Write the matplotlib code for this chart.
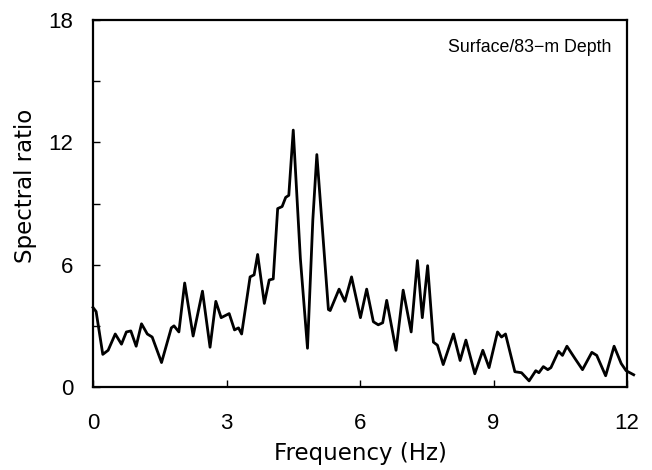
import matplotlib
matplotlib.use("Agg")
from matplotlib import pyplot as plt

# frequency (Hz) and spectral ratio
freq = [0.0, 0.07, 0.22, 0.34, 0.5, 0.64, 0.75, 0.85, 0.97, 1.09, 1.22, 1.33,
        1.54, 1.76, 1.82, 1.93, 2.06, 2.25, 2.46, 2.63, 2.76, 2.88, 3.06, 3.18,
        3.27, 3.34, 3.53, 3.62, 3.70, 3.85, 3.96, 4.05, 4.15, 4.25, 4.33, 4.40,
        4.50, 4.66, 4.82, 4.94, 5.03, 5.14, 5.29, 5.33, 5.53, 5.66, 5.81, 6.01,
        6.15, 6.30, 6.41, 6.51, 6.60, 6.81, 6.97, 7.15, 7.29, 7.40, 7.52, 7.65,
        7.74, 7.87, 8.10, 8.25, 8.38, 8.58, 8.76, 8.90, 9.09, 9.18, 9.27, 9.48,
        9.63, 9.80, 9.95, 10.02, 10.12, 10.22, 10.29, 10.46, 10.55, 10.65, 10.83,
        11.0, 11.21, 11.32, 11.52, 11.71, 11.87, 11.98, 12.15]
ratio = [3.9, 3.7, 1.6, 1.8, 2.6, 2.1, 2.7, 2.75, 2.0, 3.1, 2.6, 2.45,
         1.2, 2.9, 3.0, 2.7, 5.1, 2.5, 4.7, 1.95, 4.2, 3.4, 3.6, 2.8,
         2.9, 2.6, 5.4, 5.5, 6.5, 4.1, 5.25, 5.3, 8.75, 8.85, 9.3, 9.4,
         12.6, 6.3, 1.9, 8.2, 11.4, 8.2, 3.8, 3.75, 4.8, 4.2, 5.4, 3.4,
         4.8, 3.2, 3.05, 3.15, 4.25, 1.8, 4.75, 2.7, 6.2, 3.4, 5.95, 2.2,
         2.05, 1.1, 2.6, 1.3, 2.3, 0.65, 1.8, 0.95, 2.7, 2.45, 2.6, 0.75,
         0.7, 0.3, 0.8, 0.7, 1.0, 0.85, 0.95, 1.75, 1.55, 2.0, 1.4,
         0.85, 1.7, 1.55, 0.55, 2.0, 1.15, 0.8, 0.6]

xTicks = [0, 3, 6, 9, 12]
yTicks = [0, 6, 12, 18]

plt.rcParams['font.family'] = ['Liberation Sans', 'DejaVu Sans']

fig = plt.figure(figsize=(6.52, 4.70), dpi=100)
ax = fig.add_axes([93 / 652, 1 - 387 / 470, (627 - 93) / 652, (387 - 20) / 470])

ax.plot(freq, ratio, color="black", linewidth=2.0, clip_on=False,
        solid_joinstyle="round")

ax.set_xlim(0, 12)
ax.set_ylim(0, 18)
ax.set_xticks(xTicks)
ax.set_yticks(yTicks)
ax.set_yticks([3, 9, 15], minor=True)
ax.tick_params(axis="both", which="both", direction="in", length=5, width=1,
               labelsize=16)
ax.tick_params(axis="y", pad=14)
ax.tick_params(axis="x", pad=19)
for s in ax.spines.values():
    s.set_linewidth(1.6)

ax.set_xlabel("Frequency (Hz)", fontsize=16.5, family="DejaVu Sans")
ax.set_ylabel("Spectral ratio", fontsize=16.5, family="DejaVu Sans")
ax.xaxis.set_label_coords(0.5, -0.15)
ax.yaxis.set_label_coords(-0.105, 0.548)
ax.text(0.665, 0.925, "Surface/83\u2212m Depth", transform=ax.transAxes,
        fontsize=12.8, ha="left", va="center")

fig.savefig("out.png", dpi=100)
